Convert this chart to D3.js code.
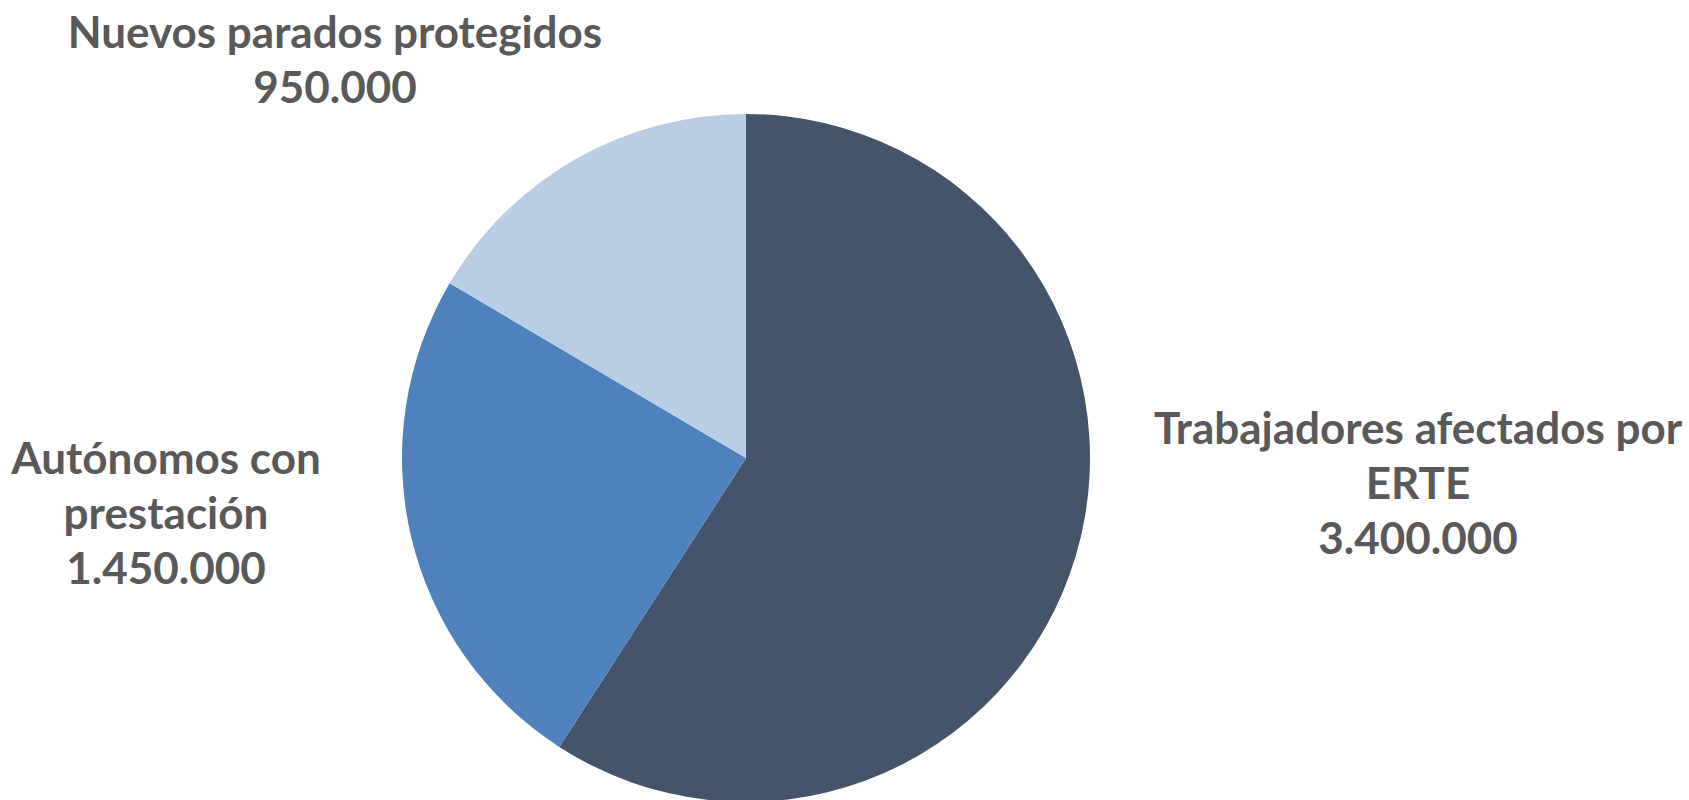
<!DOCTYPE html>
<html><head><meta charset="utf-8">
<script src="https://cdn.jsdelivr.net/npm/d3@7"></script>
<style>html,body{margin:0;padding:0;background:#fff;overflow:hidden}</style>
</head><body>
<svg id="chart" width="1689" height="800"></svg>
<script>
const categories = ["Trabajadores afectados por ERTE", "Autónomos con prestación", "Nuevos parados protegidos"];
// slice sizes
const values = [3400000, 1400000, 950000];
// value texts as printed in the labels
const valueLabels = ["3.400.000", "1.450.000", "950.000"];
const labelLines = [["Trabajadores afectados por", "ERTE"], ["Autónomos con", "prestación"], ["Nuevos parados protegidos"]];
const colors = ["#44546A", "#4F81BD", "#B9CDE5"];

const svg = d3.select("#chart");
const cx = 746, cy = 458, r = 344;
const pie = d3.pie().sort(null).value(d => d)(values);
const arc = d3.arc().innerRadius(0).outerRadius(r);
const g = svg.append("g").attr("transform", `translate(${cx},${cy})`);
g.selectAll("path").data(pie).join("path")
  .attr("d", arc).attr("fill", (d, i) => colors[i]);

// label anchor positions (center x, first baseline)
const labelPos = [[1418, 444], [166, 474], [335, 48]];
const lh = 55;
categories.forEach((c, i) => {
  const lines = labelLines[i].concat([valueLabels[i]]);
  const t = svg.append("text")
    .attr("text-anchor", "middle")
    .attr("font-family", "Lato, 'Open Sans', sans-serif")
    .attr("font-weight", "bold")
    .attr("font-size", 44)
    .attr("fill", "#595959");
  lines.forEach((l, j) => {
    t.append("tspan").attr("x", labelPos[i][0]).attr("y", labelPos[i][1] + j * lh).text(l);
  });
});
</script>
</body></html>
